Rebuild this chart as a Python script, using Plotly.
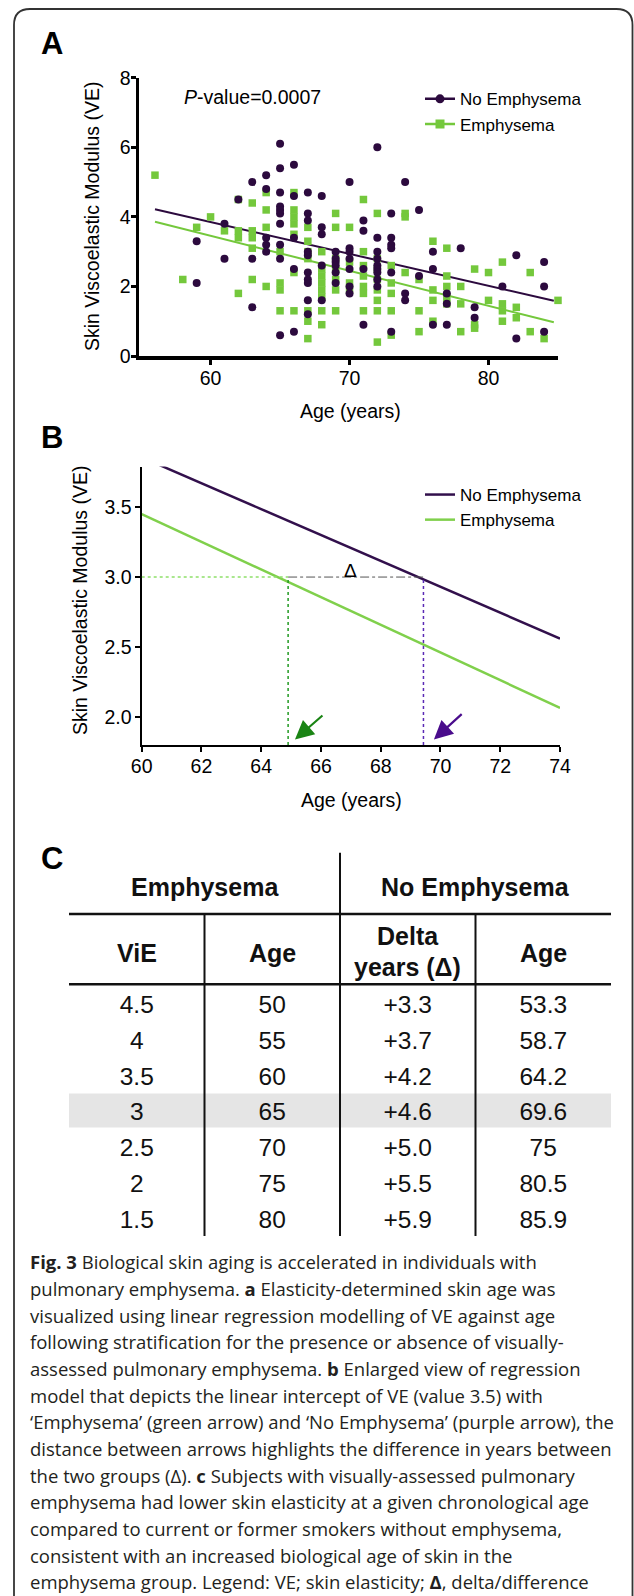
import plotly.graph_objects as go

W, H = 634, 1596
def px(x): return x / W
def py(y): return 1 - y / H

FONT = "Liberation Sans, Arial, sans-serif"
CAP_FONT = "Open Sans, sans-serif"

PURPLE = "#2c0a3e"
GREEN = "#74c83c"
PURPLE_B = "#32104c"
GREEN_B = "#80d04c"

# ---------------- Panel A data ----------------
noemph_age = [
    59, 59, 61, 61, 62, 63, 63, 63,
    64, 64, 64, 64, 64,
    65, 65, 65, 65, 65, 65, 65, 65, 65, 65,
    66, 66, 66, 66, 66,
    67, 67, 67, 67, 67, 67, 67, 67, 67, 67,
    68, 68, 68, 68, 68,
    69, 69, 69, 69, 69, 69,
    70, 70, 70, 70, 70, 70, 70,
    71, 71, 71, 71,
    72, 72, 72, 72, 72, 72, 72, 72, 72,
    73, 73, 73, 73, 73, 73,
    74, 74, 74,
    75, 75,
    76, 76, 76,
    77, 77, 77,
    78,
    79, 79,
    81,
    82, 82,
    84, 84, 84]
noemph_ve = [
    3.3, 2.1, 3.8, 2.8, 4.5, 5.0, 2.8, 1.4,
    5.2, 4.8, 3.4, 3.2, 3.0,
    6.1, 5.4, 4.7, 4.3, 4.2, 4.1, 3.8, 3.2, 2.8, 0.6,
    5.5, 4.6, 3.4, 2.5, 0.7,
    4.7, 4.1, 3.9, 3.0, 2.9, 2.4, 2.2, 2.1, 1.6, 1.2,
    4.6, 3.7, 3.5, 2.6, 1.6,
    3.0, 2.8, 2.7, 2.6, 2.4, 2.1,
    5.0, 3.1, 3.0, 2.8, 2.5, 2.0, 1.8,
    3.9, 3.6, 2.5, 0.9,
    6.0, 3.4, 3.0, 2.8, 2.6, 2.5, 2.4, 2.2, 2.0,
    4.1, 3.4, 3.2, 3.1, 2.4, 0.7,
    5.0, 1.8, 1.6,
    4.2, 2.3,
    3.0, 2.5, 0.9,
    1.8, 1.5, 0.9,
    3.1,
    1.4, 1.1,
    2.0,
    2.9, 0.5,
    2.7, 2.0, 0.7]

emph_age = [
    56, 58, 59, 60, 61,
    62, 62, 62, 62,
    63, 63, 63, 63, 63,
    64, 64, 64, 64,
    65, 65, 65, 65,
    66, 66, 66, 66, 66, 66, 66,
    67, 67, 67, 67, 67, 67, 67,
    68, 68, 68, 68, 68, 68, 68, 68,
    69, 69, 69, 69, 69, 69, 69,
    70, 70, 70, 70,
    71, 71, 71, 71, 71, 71, 71,
    72, 72, 72, 72, 72, 72, 72, 72,
    73, 73, 73, 73, 73,
    74, 74, 74,
    75, 75, 75,
    76, 76, 76, 76,
    77, 77, 77, 77, 77,
    78, 78, 78,
    79, 79, 79,
    80, 80,
    81, 81, 81, 81,
    82, 82,
    83, 83,
    84,
    85]
emph_ve = [
    5.2, 2.2, 3.7, 4.0, 3.6,
    4.5, 3.6, 3.4, 1.8,
    4.4, 3.6, 3.4, 3.1, 2.2,
    4.7, 4.2, 3.7, 2.0,
    3.0, 2.1, 1.9, 1.3,
    4.7, 4.2, 4.0, 3.8, 3.5, 2.4, 1.3,
    3.7, 3.3, 3.0, 2.8, 1.3, 1.0, 0.5,
    3.0, 2.5, 2.3, 2.1, 1.9, 1.7, 1.3, 0.9,
    4.1, 3.7, 2.8, 2.5, 2.2, 1.9, 1.3,
    3.7, 2.7, 2.1, 1.9,
    4.5, 3.0, 2.6, 2.3, 2.0, 1.8, 1.3,
    4.1, 2.8, 2.5, 2.2, 1.9, 1.6, 1.3, 0.4,
    2.6, 2.1, 1.8, 1.3, 0.6,
    4.1, 4.0, 2.4,
    2.2, 1.3, 0.7,
    3.3, 1.9, 1.6, 1.0,
    3.1, 2.3, 2.0, 1.7, 1.5,
    2.0, 1.5, 0.7,
    2.5, 0.9, 0.8,
    2.4, 1.6,
    2.7, 1.5, 1.3, 1.0,
    1.4, 1.1,
    2.4, 0.7,
    0.5,
    1.6]

# regression lines (panel A)
fitA_x = [56, 84.7]
fitA_noemph = [4.22, 1.59]
fitA_emph = [3.86, 0.97]

# ---------------- Panel B data ----------------
fitB_noemph_x = [60.6, 74]
fitB_noemph_y = [3.80, 2.56]
fitB_emph_x = [60, 74]
fitB_emph_y = [3.45, 2.065]
ref_ve = 3.0
ref_age_emph = 64.9
ref_age_noemph = 69.43

# ---------------- Panel C data ----------------
tbl_vie = ["4.5", "4", "3.5", "3", "2.5", "2", "1.5"]
tbl_age_emph = ["50", "55", "60", "65", "70", "75", "80"]
tbl_delta = ["+3.3", "+3.7", "+4.2", "+4.6", "+5.0", "+5.5", "+5.9"]
tbl_age_noemph = ["53.3", "58.7", "64.2", "69.6", "75", "80.5", "85.9"]
highlight_row = 3

caption_lines = [
    "<b>Fig. 3</b> Biological skin aging is accelerated in individuals with",
    "pulmonary emphysema. <b>a</b> Elasticity-determined skin age was",
    "visualized using linear regression modelling of VE against age",
    "following stratification for the presence or absence of visually-",
    "assessed pulmonary emphysema. <b>b</b> Enlarged view of regression",
    "model that depicts the linear intercept of VE (value 3.5) with",
    "\u2018Emphysema\u2019 (green arrow) and \u2018No Emphysema\u2019 (purple arrow), the",
    "distance between arrows highlights the difference in years between",
    "the two groups (\u0394). <b>c</b> Subjects with visually-assessed pulmonary",
    "emphysema had lower skin elasticity at a given chronological age",
    "compared to current or former smokers without emphysema,",
    "consistent with an increased biological age of skin in the",
    "emphysema group. Legend: VE; skin elasticity; <b>\u0394</b>, delta/difference",
]

fig = go.Figure()

# ---- Panel A traces ----
fig.add_trace(go.Scatter(x=fitA_x, y=fitA_noemph, mode="lines",
                         line=dict(color=PURPLE, width=2), showlegend=False,
                         xaxis="x", yaxis="y"))
fig.add_trace(go.Scatter(x=fitA_x, y=fitA_emph, mode="lines",
                         line=dict(color=GREEN, width=2), showlegend=False,
                         xaxis="x", yaxis="y"))
fig.add_trace(go.Scatter(x=emph_age, y=emph_ve, mode="markers",
                         marker=dict(symbol="square", size=7.5, color=GREEN),
                         showlegend=False, cliponaxis=False, xaxis="x", yaxis="y"))
fig.add_trace(go.Scatter(x=noemph_age, y=noemph_ve, mode="markers",
                         marker=dict(symbol="circle", size=8, color=PURPLE),
                         showlegend=False, cliponaxis=False, xaxis="x", yaxis="y"))
# legend entries A
fig.add_trace(go.Scatter(x=[None], y=[None], mode="lines+markers", name="No Emphysema",
                         line=dict(color=PURPLE, width=2.5),
                         marker=dict(symbol="circle", size=9, color=PURPLE),
                         legend="legend", xaxis="x", yaxis="y"))
fig.add_trace(go.Scatter(x=[None], y=[None], mode="lines+markers", name="Emphysema",
                         line=dict(color=GREEN, width=2.5),
                         marker=dict(symbol="square", size=9, color=GREEN),
                         legend="legend", xaxis="x", yaxis="y"))

# ---- Panel B traces ----
fig.add_trace(go.Scatter(x=fitB_noemph_x, y=fitB_noemph_y, mode="lines", name="No Emphysema",
                         line=dict(color=PURPLE_B, width=2.5), legend="legend2",
                         xaxis="x2", yaxis="y2"))
fig.add_trace(go.Scatter(x=fitB_emph_x, y=fitB_emph_y, mode="lines", name="Emphysema",
                         line=dict(color=GREEN_B, width=2.5), legend="legend2",
                         xaxis="x2", yaxis="y2"))

# ---- Panel C body cells (text through hidden axes) ----
nrows = len(tbl_vie)
row_y = [i + 0.5 for i in range(nrows)]
for ci, col in enumerate([tbl_vie, tbl_age_emph, tbl_delta, tbl_age_noemph]):
    fig.add_trace(go.Scatter(x=[ci + 0.5] * nrows, y=row_y, mode="text", text=col,
                             textposition="middle center",
                             textfont=dict(family=FONT, size=24.5, color="#111"),
                             showlegend=False, hoverinfo="skip", cliponaxis=False,
                             xaxis="x3", yaxis="y3"))

axis_common = dict(showgrid=False, zeroline=False, showline=True, linecolor="black",
                   ticks="outside", tickcolor="black", automargin=False,
                   tickfont=dict(family=FONT, size=19.5, color="black"))

fig.update_layout(
    template="none",
    width=W, height=H,
    margin=dict(l=0, r=0, t=0, b=0, pad=0, autoexpand=False),
    paper_bgcolor="white", plot_bgcolor="rgba(0,0,0,0)",
    xaxis=dict(domain=[px(139), px(558)], range=[54.85, 85], tickvals=[60, 70, 80],
               linewidth=3.5, tickwidth=3, ticklen=5, ticklabelstandoff=-3,
               anchor="y", **axis_common),
    yaxis=dict(domain=[py(356), py(77.8)], range=[0, 8], tickvals=[0, 2, 4, 6, 8],
               linewidth=3.5, tickwidth=3, ticklen=5, ticklabelstandoff=-4,
               anchor="x", **axis_common),
    xaxis2=dict(domain=[px(141.7), px(560)], range=[60, 74], tickvals=list(range(60, 75, 2)),
                linewidth=2.2, tickwidth=2, ticklen=5, ticklabelstandoff=-3,
                anchor="y2", **axis_common),
    yaxis2=dict(domain=[py(745), py(466.5)], range=[1.8, 3.79], tickvals=[2.0, 2.5, 3.0, 3.5],
                tickformat=".1f", linewidth=2.2, tickwidth=2, ticklen=5, ticklabelstandoff=-1,
                anchor="x2", **axis_common),
    xaxis3=dict(domain=[px(69), px(611)], range=[0, 4], visible=False, anchor="y3",
                fixedrange=True, automargin=False),
    yaxis3=dict(domain=[py(1239.6), py(845.5)], range=[7, -4], visible=False, anchor="x3",
                fixedrange=True, automargin=False),
    legend=dict(x=px(420), y=py(81.3), xanchor="left", yanchor="top",
                font=dict(family=FONT, size=17, color="black"),
                bgcolor="rgba(0,0,0,0)", borderwidth=0, itemwidth=30),
    legend2=dict(x=px(420), y=py(477), xanchor="left", yanchor="top",
                 font=dict(family=FONT, size=17, color="black"),
                 bgcolor="rgba(0,0,0,0)", borderwidth=0, itemwidth=30),
)

ann = []
def A(**k):
    d = dict(showarrow=False, xanchor="center", yanchor="middle",
             font=dict(family=FONT, size=19.5, color="black"))
    d.update(k)
    ann.append(d)

# panel letters
for letter, yy in [("A", 43.5), ("B", 437.5), ("C", 858)]:
    A(text=f"<b>{letter}</b>", x=px(51.5), y=py(yy), xref="paper", yref="paper",
      font=dict(family=FONT, size=31, color="black"))

# axis titles
A(text="Skin Viscoelastic Modulus (VE)", x=px(92), y=py(216), xref="paper", yref="paper",
  textangle=-90)
A(text="Age (years)", x=px(350), y=py(411), xref="paper", yref="paper")
A(text="Skin Viscoelastic Modulus (VE)", x=px(80), y=py(600), xref="paper", yref="paper",
  textangle=-90)
A(text="Age (years)", x=px(351), y=py(800), xref="paper", yref="paper")

# P-value
A(text="<i>P</i>-value=0.0007", x=px(182), y=py(97), xref="paper", yref="paper",
  xanchor="left")

# Delta
A(text="\u0394", x=67.0, y=ref_ve + 0.05, xref="x2", yref="y2",
  font=dict(family=FONT, size=19, color="black"))

# arrows
ann.append(dict(x=65.13, y=1.84, ax=66.1, ay=2.02, xref="x2", yref="y2", axref="x2",
                ayref="y2", showarrow=True, arrowhead=2, arrowsize=1.7, arrowwidth=2.2,
                arrowcolor="#1a8414", text=""))
ann.append(dict(x=69.78, y=1.84, ax=70.76, ay=2.03, xref="x2", yref="y2", axref="x2",
                ayref="y2", showarrow=True, arrowhead=2, arrowsize=1.7, arrowwidth=2.2,
                arrowcolor="#4a0c8c", text=""))

# table headers
HB = dict(family=FONT, size=25, color="#111")
A(text="<b>Emphysema</b>", x=1.0, y=-2.85, xref="x3", yref="y3", font=HB)
A(text="<b>No Emphysema</b>", x=3.0, y=-2.85, xref="x3", yref="y3", font=HB)
A(text="<b>ViE</b>", x=0.5, y=-1.01, xref="x3", yref="y3", font=HB)
A(text="<b>Age</b>", x=1.5, y=-1.01, xref="x3", yref="y3", font=HB)
A(text="<b>Delta</b>", x=2.5, y=-1.47, xref="x3", yref="y3", font=HB)
A(text="<b>years (\u0394)</b>", x=2.5, y=-0.62, xref="x3", yref="y3", font=HB)
A(text="<b>Age</b>", x=3.5, y=-1.01, xref="x3", yref="y3", font=HB)

# caption
cap_y0, cap_dy = 1261.7, 26.67
for i, line in enumerate(caption_lines):
    A(text=line, x=px(28), y=py(cap_y0 + i * cap_dy), xref="paper", yref="paper",
      xanchor="left", yanchor="middle",
      font=dict(family=CAP_FONT, size=18.5, color="#231f20"))

fig.update_layout(annotations=ann)

shapes = []
# highlight band in table
shapes.append(dict(type="rect", xref="x3", yref="y3", x0=0, x1=4,
                   y0=highlight_row - 0.08, y1=highlight_row + 0.87,
                   fillcolor="#e5e5e5", line=dict(width=0), layer="below"))
# table rules
for yy in [-2.09, -0.126]:
    shapes.append(dict(type="line", xref="x3", yref="y3", x0=0, x1=4, y0=yy, y1=yy,
                       line=dict(color="#111", width=2.5)))
shapes.append(dict(type="line", xref="x3", yref="y3", x0=2, x1=2, y0=-3.8, y1=6.9,
                   line=dict(color="#111", width=2)))
for xx in [1, 3]:
    shapes.append(dict(type="line", xref="x3", yref="y3", x0=xx, x1=xx, y0=-2.09, y1=6.9,
                       line=dict(color="#111", width=2)))

# panel B reference lines
shapes.append(dict(type="line", xref="x2", yref="y2", x0=60, x1=ref_age_emph,
                   y0=ref_ve, y1=ref_ve, line=dict(color="#8ee06a", width=1.5, dash="dot")))
shapes.append(dict(type="line", xref="x2", yref="y2", x0=ref_age_emph, x1=ref_age_noemph,
                   y0=ref_ve, y1=ref_ve, line=dict(color="#555555", width=1, dash="dashdot")))
shapes.append(dict(type="line", xref="x2", yref="y2", x0=ref_age_emph, x1=ref_age_emph,
                   y0=1.8, y1=ref_ve, line=dict(color="#229a22", width=1.5, dash="dot")))
shapes.append(dict(type="line", xref="x2", yref="y2", x0=ref_age_noemph, x1=ref_age_noemph,
                   y0=1.8, y1=ref_ve - 0.02, line=dict(color="#5a2ab5", width=1.5, dash="dot")))

# page frame (rounded rectangle, open at the bottom)
x0f, x1f, y0f, ybf, r = 14, 632.5, 9, 1620, 16
path = (f"M {px(x0f)},{py(ybf)} L {px(x0f)},{py(y0f + r)} "
        f"Q {px(x0f)},{py(y0f)} {px(x0f + r)},{py(y0f)} "
        f"L {px(x1f - r)},{py(y0f)} Q {px(x1f)},{py(y0f)} {px(x1f)},{py(y0f + r)} "
        f"L {px(x1f)},{py(ybf)}")
shapes.append(dict(type="path", xref="paper", yref="paper", path=path,
                   line=dict(color="#333333", width=1.8)))

fig.update_layout(shapes=shapes)

# remove the default page margin so figure pixels map 1:1 onto the window
fig.write_html("out.html",
               config={"displayModeBar": False, "staticPlot": True},
               post_script="document.body.style.margin='0px';"
                           "document.body.style.overflow='hidden';")
